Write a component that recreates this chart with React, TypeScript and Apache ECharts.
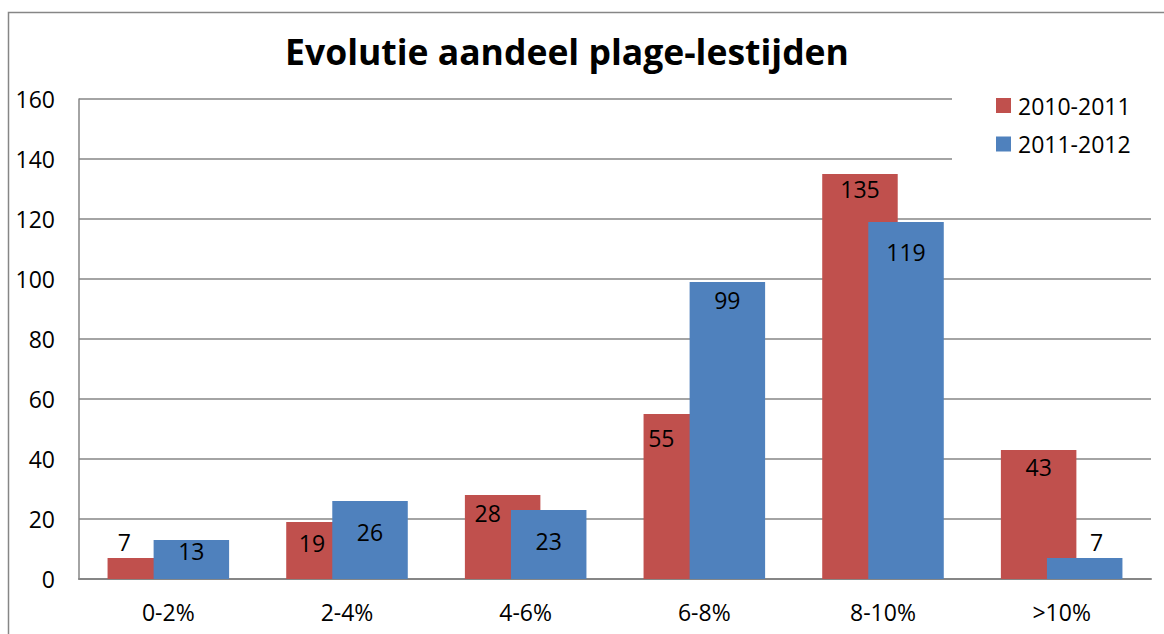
import React, { useEffect, useRef } from "react";
import * as echarts from "echarts";

const categories = ["0-2%", "2-4%", "4-6%", "6-8%", "8-10%", ">10%"];
const seriesNames = ["2010-2011", "2011-2012"];
const values2010 = [7, 19, 28, 55, 135, 43];
const values2011 = [13, 26, 23, 99, 119, 7];
const yTicks = { min: 0, max: 160, interval: 20 };

// label placement tweaks (style only)
const labelPos2010 = ["top", "insideTop", "insideTop", "insideTop", "insideTop", "insideTop"];
const labelOff2010 = [[-21, 0], [-12, 4], [-15, 1], [-20, 7], [0, -2], [0, 0]];
const labelPos2011 = ["insideTop", "insideTop", "insideTop", "insideTop", "insideTop", "top"];
const labelOff2011 = [[0, -6], [0, 14], [0, 14], [0, 1], [0, 13], [12, 0]];

const RED = "#C0504D";
const BLUE = "#4F81BD";
const GRID = "#868686";
const FONT = "'Open Sans', 'Liberation Sans', sans-serif";

export default function App() {
  const ref = useRef<HTMLDivElement>(null);
  useEffect(() => {
    if (!ref.current) return;
    const chart = echarts.init(ref.current, null, { renderer: "svg" });
    const mk = (vals: number[], pos: string[], off: number[][]) =>
      vals.map((v, i) => ({
        value: v,
        label: { position: pos[i], offset: off[i], distance: 5 },
      }));
    chart.setOption({
      animation: false,
      backgroundColor: "#ffffff",
      textStyle: { fontFamily: FONT },
      title: {
        text: "Evolutie aandeel plage-lestijden",
        left: 567,
        top: 30,
        textAlign: "center",
        textStyle: { fontFamily: FONT, fontWeight: "bold", fontSize: 35.5, color: "#000", lineHeight: 42 },
        padding: 0,
      },
      graphic: [
        {
          type: "rect",
          shape: { x: 8.5, y: 12.5, width: 1300, height: 800 },
          style: { fill: "none", stroke: GRID, lineWidth: 1.5 },
          silent: true,
          z: 100,
        },
      ],
      legend: {
        orient: "vertical",
        left: 952,
        top: 80,
        padding: [14, 40, 14, 44],
        backgroundColor: "#ffffff",
        itemWidth: 15,
        itemHeight: 15,
        itemGap: 15.5,
        icon: "rect",
        data: seriesNames,
        textStyle: { fontFamily: FONT, fontSize: 23, color: "#000", lineHeight: 15, padding: [0, 0, 0, 2] },
      },
      grid: { left: 79, right: 13, top: 99, bottom: 55, containLabel: false },
      xAxis: {
        type: "category",
        data: categories,
        axisLine: { show: true, lineStyle: { color: GRID, width: 2 } },
        axisTick: { show: false },
        axisLabel: { fontFamily: FONT, fontSize: 23, color: "#000", margin: 21 },
      },
      yAxis: {
        type: "value",
        min: yTicks.min,
        max: yTicks.max,
        interval: yTicks.interval,
        axisLine: { show: true, lineStyle: { color: GRID, width: 1.5 } },
        axisTick: { show: false },
        splitLine: { lineStyle: { color: GRID, width: 1.5 } },
        axisLabel: { fontFamily: FONT, fontSize: 23, color: "#000", margin: 24 },
      },
      series: [
        {
          name: seriesNames[0],
          type: "bar",
          barWidth: 75.5,
          barGap: "-39%",
          itemStyle: { color: RED },
          label: { show: true, fontFamily: FONT, fontSize: 23, color: "#000" },
          data: mk(values2010, labelPos2010, labelOff2010),
        },
        {
          name: seriesNames[1],
          type: "bar",
          barWidth: 75.5,
          barGap: "-39%",
          itemStyle: { color: BLUE },
          label: { show: true, fontFamily: FONT, fontSize: 23, color: "#000" },
          data: mk(values2011, labelPos2011, labelOff2011),
        },
      ],
    });
    return () => chart.dispose();
  }, []);
  return (
    <div
      ref={ref}
      style={{ position: "fixed", left: 0, top: 0, width: 1164, height: 634 }}
    />
  );
}
